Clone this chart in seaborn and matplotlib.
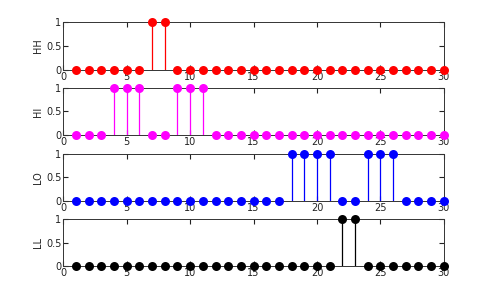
import numpy as np
import pandas as pd
import matplotlib
matplotlib.use("Agg")
import matplotlib.pyplot as plt
from matplotlib.ticker import FixedLocator, FixedFormatter
import seaborn as sns

x = list(range(1, 31))
hh_ones = [7, 8]
hi_ones = [4, 5, 6, 9, 10, 11]
lo_ones = [18, 19, 20, 21, 24, 25, 26]
ll_ones = [22, 23]
labels = ["HH", "HI", "LO", "LL"]
colors = ["#ff0000", "#ff00ff", "#0000ff", "#000000"]
series = [hh_ones, hi_ones, lo_ones, ll_ones]
xticks = [0, 5, 10, 15, 20, 25, 30]
yticks = [0.0, 0.5, 1.0]
ytick_labels = ["0", "0.5", "1"]

sns.set_style("ticks", {"xtick.direction": "in", "ytick.direction": "in",
                        "xtick.top": True, "ytick.right": True})
plt.rcParams['font.family'] = ['DejaVu Sans']

fig = plt.figure(figsize=(4.91, 3.00), dpi=100)
rects = [
    (0.129, 0.767, 0.775, 0.160),
    (0.129, 0.550, 0.775, 0.157),
    (0.129, 0.330, 0.775, 0.157),
    (0.129, 0.113, 0.775, 0.157),
]
for rect, lab, col, ones in zip(rects, labels, colors, series):
    ax = fig.add_axes(rect)
    y = [1.0 if v in ones else 0.0 for v in x]
    df = pd.DataFrame({"x": x, "y": y})
    ax.vlines(df["x"], 0, df["y"], color=col, linewidth=0.9, zorder=2)
    sns.scatterplot(data=df, x="x", y="y", color=col, s=42, edgecolor=col,
                    linewidth=0, ax=ax, clip_on=False, zorder=3)
    ax.set_xlim(0, 30)
    ax.set_ylim(0, 1)
    ax.xaxis.set_major_locator(FixedLocator(xticks))
    ax.yaxis.set_major_locator(FixedLocator(yticks))
    ax.yaxis.set_major_formatter(FixedFormatter(ytick_labels))
    ax.set_xlabel("")
    ax.set_ylabel(lab, fontsize=7, color="#222222", labelpad=2)
    ax.tick_params(axis="both", which="major", direction="in", length=3.5,
                   width=0.8, labelsize=7, color="#222222",
                   labelcolor="#222222", top=True, right=True, left=True,
                   bottom=True, pad=1.5)
    for s in ax.spines.values():
        s.set_visible(True)
        s.set_color("#333333")
        s.set_linewidth(0.7)

fig.savefig("out.png", dpi=100)
